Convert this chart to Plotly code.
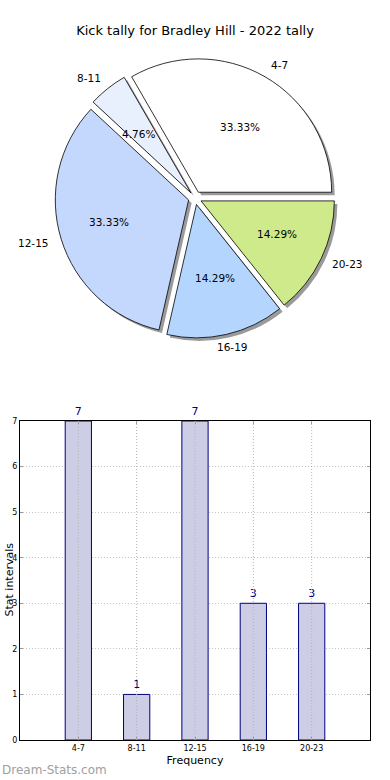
import math
import plotly.graph_objects as go

# ---- data ----
categories = ["4-7", "8-11", "12-15", "16-19", "20-23"]
counts = [7, 1, 7, 3, 3]
slice_colors = ["#ffffff", "#e8f0fe", "#c4d8fe", "#b4d6fe", "#cfea8a"]
y_ticks = [0, 1, 2, 3, 4, 5, 6, 7]
title_text = "Kick tally for Bradley Hill - 2022 tally"

W, H = 390, 780
FONT = "DejaVu Sans"

# pie geometry (pixels)
cx, cy = 195, 198
outer = 140
pull = 0.05
shadow = 3
total = sum(counts)
# in counterclockwise mode plotly ends the first slice at `rotation`;
# we want the first slice to start at 3 o'clock
rotation = 90 - 360 * counts[0] / total
# label placement radii (horizontal / vertical) matching the original ellipse
lab_a, lab_b = 146, 132

def px2paper(x, y):
    return x / W, 1 - y / H

fig = go.Figure()

x0, x1 = (cx - outer) / W, (cx + outer) / W
y0, y1 = 1 - (cy + outer) / H, 1 - (cy - outer) / H

# shadow pie
fig.add_trace(go.Pie(
    labels=categories, values=counts, sort=False, direction="counterclockwise",
    rotation=rotation, pull=pull,
    marker=dict(colors=["#9a9a9a"] * len(counts), line=dict(width=0)),
    textinfo="none", hoverinfo="skip", showlegend=False,
    domain=dict(x=[x0 + shadow / W, x1 + shadow / W], y=[y0 - shadow / H, y1 - shadow / H]),
))
# main pie
fig.add_trace(go.Pie(
    labels=categories, values=counts, sort=False, direction="counterclockwise",
    rotation=rotation, pull=pull,
    marker=dict(colors=slice_colors, line=dict(color="#000000", width=0.8)),
    textinfo="none", showlegend=False,
    domain=dict(x=[x0, x1], y=[y0, y1]),
))

# pie labels and percentages as annotations computed from the data
start = 0.0
annotations = []
for lab, v in zip(categories, counts):
    frac = v / total
    mid = math.radians((start + frac / 2) * 360)
    start += frac
    lx = cx + 1.16 * lab_a * math.cos(mid)
    ly = cy - 1.16 * lab_b * math.sin(mid)
    px_, py_ = px2paper(lx, ly)
    annotations.append(dict(x=px_, y=py_, xref="paper", yref="paper", text=lab,
                            xanchor="center", yanchor="middle", showarrow=False,
                            font=dict(family=FONT, size=10.5, color="#000")))
    tx = cx + 0.62 * lab_a * math.cos(mid)
    ty = cy - 0.62 * lab_b * math.sin(mid)
    px_, py_ = px2paper(tx, ty)
    annotations.append(dict(x=px_, y=py_, xref="paper", yref="paper",
                            text=f"{frac * 100:.2f}%",
                            xanchor="center", yanchor="middle", showarrow=False,
                            font=dict(family=FONT, size=10.5, color="#000")))

# bar chart
fig.add_trace(go.Bar(
    x=categories, y=counts, width=0.45,
    marker=dict(color="#cdcde6", line=dict(color="#000080", width=1)),
    text=[str(c) for c in counts], textposition="outside", cliponaxis=False,
    textfont=dict(family=FONT, size=11, color="#000080"),
    showlegend=False, xaxis="x", yaxis="y",
))

# vertical dotted grid drawn above the bars
shapes = []
for c in categories:
    shapes.append(dict(type="line", xref="x", yref="y", x0=c, x1=c,
                       y0=y_ticks[0], y1=y_ticks[-1], layer="above",
                       line=dict(color="#b4b4b4", width=1, dash="1px,2px")))

annotations.append(dict(x=0, y=1 - 580 / H, xref="paper", yref="paper",
                        text="Stat intervals", textangle=-90, showarrow=False,
                        xanchor="left", yanchor="middle",
                        font=dict(family=FONT, size=11, color="#000")))
annotations.append(dict(x=0, y=1 - 770 / H, xref="paper", yref="paper",
                        text="Dream-Stats.com", showarrow=False,
                        xanchor="left", yanchor="middle",
                        font=dict(family=FONT, size=12, color="#a0a0a0")))

axis_common = dict(showline=True, linecolor="#000", linewidth=1, mirror="ticks",
                   ticks="inside", ticklen=3, tickcolor="#999",
                   tickfont=dict(family=FONT, size=8, color="#000"),
                   zeroline=False, fixedrange=True, automargin=False)

fig.update_layout(
    width=W, height=H, autosize=False,
    margin=dict(l=0, r=0, t=0, b=0),
    paper_bgcolor="white", plot_bgcolor="white",
    font=dict(family=FONT, color="#000"),
    title=dict(text=title_text, x=0.5, xanchor="center", y=1 - 30 / H, yanchor="middle",
               font=dict(family=FONT, size=13, color="#000")),
    annotations=annotations,
    shapes=shapes,
    xaxis=dict(domain=[20 / W, 370 / W], range=[-1, 5], type="category",
               showgrid=False,
               title=dict(text="Frequency", standoff=4, font=dict(family=FONT, size=11)),
               **axis_common),
    yaxis=dict(domain=[1 - 740 / H, 1 - 421 / H], range=[y_ticks[0], y_ticks[-1]],
               tickvals=y_ticks, showgrid=True, gridcolor="#c4c4c4",
               griddash="1px,2px", gridwidth=1, **axis_common),
)

fig.write_html("out.html", config={"displayModeBar": False},
               post_script="document.body.style.margin='0';")
